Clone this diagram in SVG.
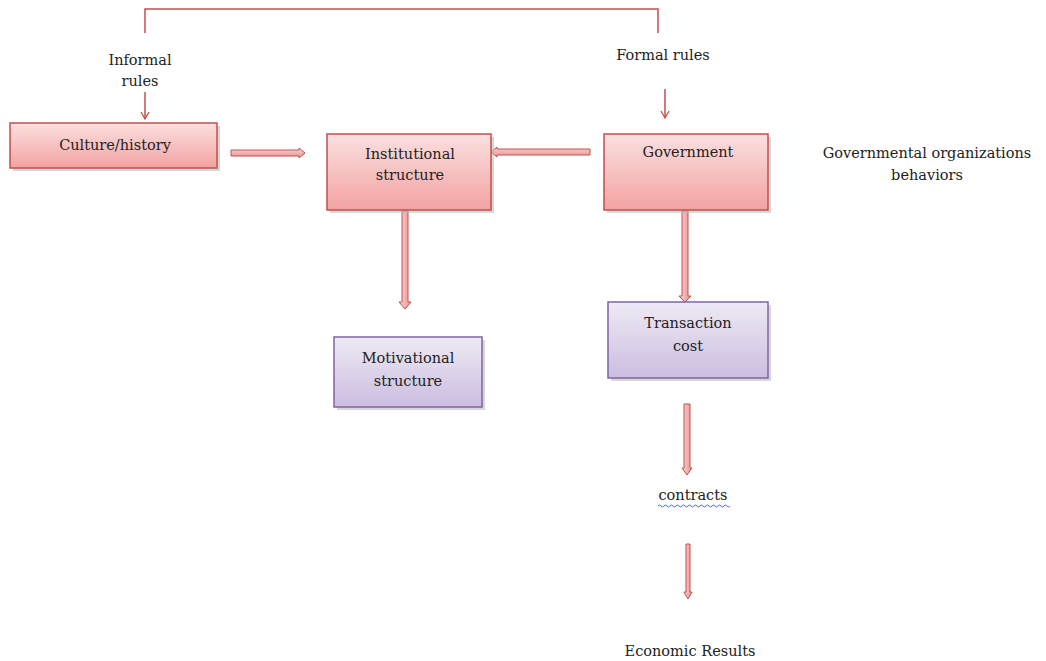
<svg xmlns="http://www.w3.org/2000/svg" width="1046" height="661" viewBox="0 0 1046 661">
<defs>
<linearGradient id="gRed" x1="0" y1="0" x2="0" y2="1">
<stop offset="0" stop-color="#fbe0e0"/><stop offset="1" stop-color="#f3a2a2"/>
</linearGradient>
<linearGradient id="gPur" x1="0" y1="0" x2="0" y2="1">
<stop offset="0" stop-color="#eeeaf4"/><stop offset="1" stop-color="#cbbde0"/>
</linearGradient>
<linearGradient id="gArrH" x1="0" y1="0" x2="0" y2="1">
<stop offset="0" stop-color="#f9d6d6"/><stop offset="1" stop-color="#e98e8e"/>
</linearGradient>
<linearGradient id="gArrV" x1="0" y1="0" x2="1" y2="0">
<stop offset="0" stop-color="#f9d6d6"/><stop offset="1" stop-color="#e98e8e"/>
</linearGradient>
<marker id="thin" markerWidth="10" markerHeight="10" refX="8" refY="5" orient="auto" markerUnits="userSpaceOnUse">
<path d="M1,1 L8,5 L1,9" fill="none" stroke="#c0504d" stroke-width="1.3"/>
</marker>
</defs>
<style>
text{font-family:"DejaVu Serif","Liberation Serif",serif;font-size:14.5px;fill:#222;text-anchor:middle}
.rbox{fill:url(#gRed);stroke:#c0504d;stroke-width:1.5}
.pbox{fill:url(#gPur);stroke:#8064a2;stroke-width:1.5}
.sh{fill:#bdbdbd;opacity:0.6}
.line{fill:none;stroke:#c0504d;stroke-width:1.5}
.ah{fill:url(#gArrH);stroke:#c0504d;stroke-width:1}
.av{fill:url(#gArrV);stroke:#c0504d;stroke-width:1}
</style>
<rect width="1046" height="661" fill="#fff"/>

<g id="connectors">
<path class="line" d="M145,33 V9 H658 V33"/>
<line class="line" x1="145" y1="92" x2="145" y2="119" marker-end="url(#thin)"/>
<line class="line" x1="665" y1="89" x2="665" y2="118" marker-end="url(#thin)"/>
<path class="ah" d="M231,150 H299 V148 L305,153 L299,158 V156 H231 Z"/>
<path class="ah" d="M590,149 H497 V147 L491,152 L497,157 V155 H590 Z"/>
<path class="av" d="M402,211 V302 H399 L405,309 L411,302 H408 V211 Z"/>
<path class="av" d="M682,211 V296 H679 L685,302 L691,296 H688 V211 Z"/>
<path class="av" d="M684,404 V468 H682 L687,475 L692,468 H690 V404 Z"/>
<path class="av" d="M686,544 V592 H684 L688,599 L692,592 H690 V544 Z"/>
</g>

<g id="informal"><text x="140" y="65">Informal</text><text x="140" y="86">rules</text></g>
<g id="formal"><text x="663" y="60">Formal rules</text></g>

<g id="culture">
<rect class="sh" x="13" y="126" width="207" height="45"/>
<rect class="rbox" x="10" y="123" width="207" height="45"/>
<text x="115" y="150">Culture/history</text>
</g>

<g id="institutional">
<rect class="sh" x="330" y="137" width="164" height="76"/>
<rect class="rbox" x="327" y="134" width="164" height="76"/>
<text x="410" y="159">Institutional</text>
<text x="410" y="180">structure</text>
</g>

<g id="government">
<rect class="sh" x="607" y="137" width="164" height="76"/>
<rect class="rbox" x="604" y="134" width="164" height="76"/>
<text x="688" y="157">Government</text>
</g>

<g id="govorg">
<text x="927" y="158">Governmental organizations</text>
<text x="927" y="180">behaviors</text>
</g>

<g id="motivational">
<rect class="sh" x="337" y="340" width="148" height="70"/>
<rect class="pbox" x="334" y="337" width="148" height="70"/>
<text x="408" y="363">Motivational</text>
<text x="408" y="386">structure</text>
</g>

<g id="transaction">
<rect class="sh" x="611" y="305" width="160" height="76"/>
<rect class="pbox" x="608" y="302" width="160" height="76"/>
<text x="688" y="328">Transaction</text>
<text x="688" y="351">cost</text>
</g>

<g id="contracts">
<text x="693" y="500">contracts</text>
<path d="M658,506 q1.5,-2 3,0 t3,0 t3,0 t3,0 t3,0 t3,0 t3,0 t3,0 t3,0 t3,0 t3,0 t3,0 t3,0 t3,0 t3,0 t3,0 t3,0 t3,0 t3,0 t3,0 t3,0 t3,0 t3,0 t3,0" fill="none" stroke="#4a6ed0" stroke-width="1"/>
</g>

<g id="economic"><text x="690" y="656">Economic Results</text></g>
</svg>
